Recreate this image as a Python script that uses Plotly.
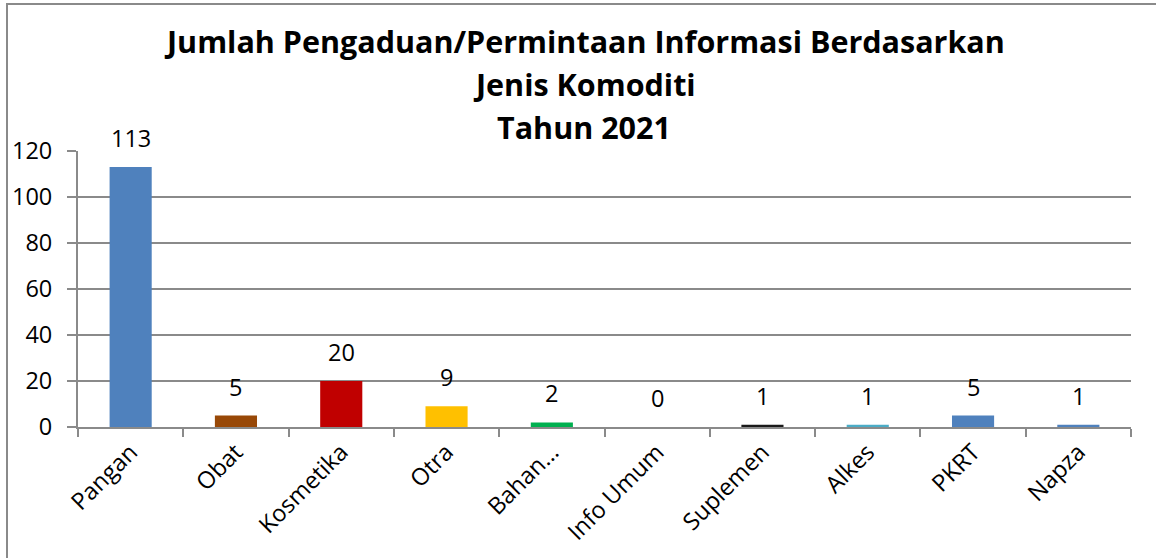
import plotly.graph_objects as go

categories = ["Pangan", "Obat", "Kosmetika", "Otra", "Bahan…", "Info Umum",
              "Suplemen", "Alkes", "PKRT", "Napza"]
values = [113, 5, 20, 9, 2, 0, 1, 1, 5, 1]
colors = ["#4F81BD", "#984807", "#C00000", "#FFC000", "#00B050", "#7F7F7F",
          "#1A1A1A", "#4BACC6", "#4F81BD", "#4F81BD"]
y_ticks = [0, 20, 40, 60, 80, 100, 120]
title_lines = ["Jumlah Pengaduan/Permintaan Informasi Berdasarkan",
               "Jenis Komoditi", "Tahun 2021"]

W, H = 1156, 558
L, R, T, B = 78, 25, 151, 131
FONT = "Open Sans, Calibri, sans-serif"
FS = 23.5

fig = go.Figure()
fig.add_trace(go.Bar(x=categories, y=values, marker=dict(color=colors, line=dict(width=0)),
                     width=0.4, hoverinfo="x+y"))

for c, v in zip(categories, values):
    fig.add_annotation(x=c, y=v, text=str(v), showarrow=False, yanchor="bottom",
                       yshift=11, font=dict(family=FONT, size=FS, color="#000"))

pw = W - L - R
ph = H - T - B
def px_x(p):
    return (p - L) / pw
def px_y(p):
    return (H - B - p) / ph

# title lines (page pixel centres)
for line, yc in zip(title_lines, [41, 84, 127]):
    fig.add_annotation(xref="paper", yref="paper", x=px_x(584), y=px_y(yc),
                       xanchor="center", yanchor="middle", showarrow=False, text="<b>%s</b>" % line,
                       font=dict(family=FONT, size=30.5, color="#000"))

fig.add_shape(type="rect", xref="paper", yref="paper",
              x0=px_x(7), x1=px_x(1175), y0=px_y(4), y1=px_y(575),
              line=dict(color="#8a8a8a", width=2), fillcolor="rgba(0,0,0,0)", layer="below")

fig.update_layout(
    width=W, height=H,
    margin=dict(l=L, r=R, t=T, b=B, autoexpand=False),
    paper_bgcolor="white", plot_bgcolor="white",
    showlegend=False,
    font=dict(family=FONT, size=FS, color="#000"),
    xaxis=dict(tickangle=-45, tickson="boundaries", ticks="outside", ticklen=8,
               tickcolor="#8a8a8a", tickwidth=2, showline=True, linecolor="#8a8a8a",
               linewidth=2, showgrid=False, automargin=False, tickfont=dict(family=FONT, size=FS)),
    yaxis=dict(range=[0, 120], tickvals=y_ticks, ticks="outside", ticklen=9,
               tickcolor="#8a8a8a", tickwidth=2, showline=True, linecolor="#8a8a8a",
               linewidth=2, showgrid=True, gridcolor="#8a8a8a", gridwidth=2,
               zeroline=False, automargin=False, ticklabelstandoff=10,
               tickfont=dict(family=FONT, size=FS)),
)

fig.write_html("out.html", config={"displayModeBar": False},
               post_script="document.body.style.margin='0';document.body.style.padding='0';")
